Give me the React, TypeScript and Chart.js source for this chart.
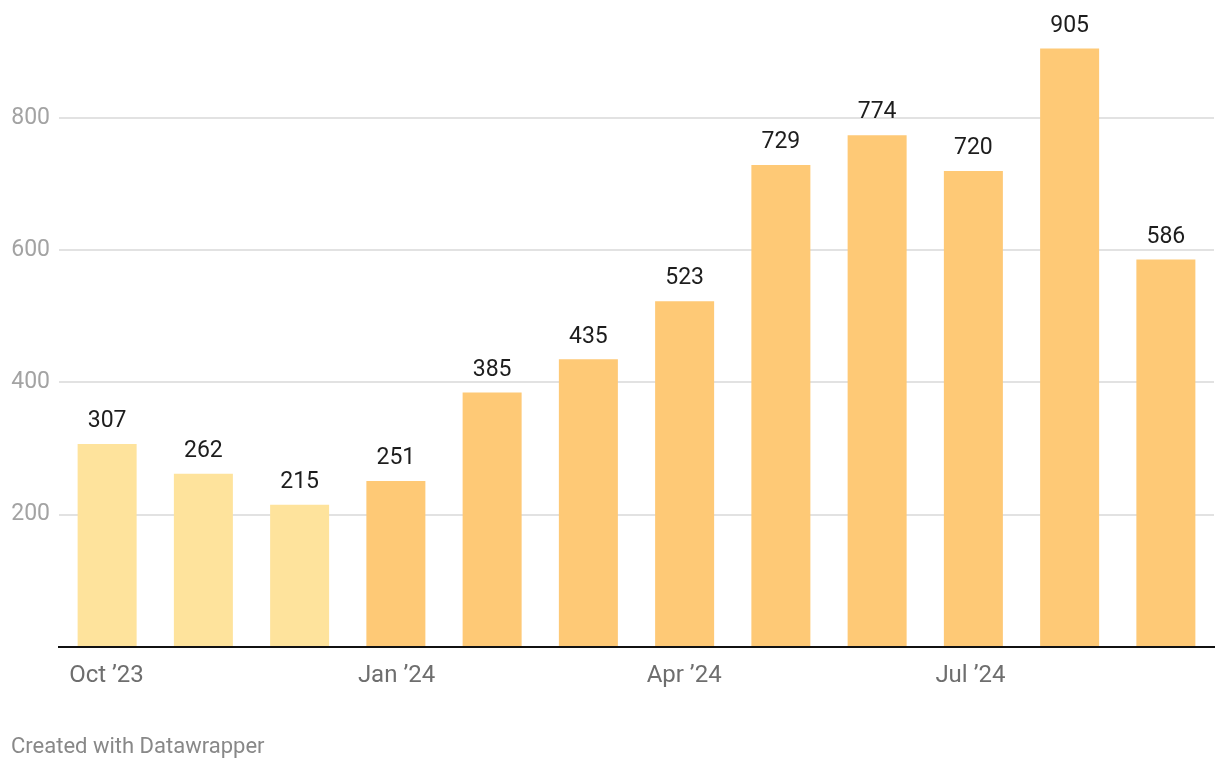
import React, { useEffect, useRef } from "react";
import { Chart, registerables } from "chart.js";

Chart.register(...registerables);

const months = [
  "Oct ’23", "Nov ’23", "Dec ’23", "Jan ’24", "Feb ’24", "Mar ’24",
  "Apr ’24", "May ’24", "Jun ’24", "Jul ’24", "Aug ’24", "Sep ’24",
];
const values = [307, 262, 215, 251, 385, 435, 523, 729, 774, 720, 905, 586];
const shownTickLabels = ["Oct ’23", "Jan ’24", "Apr ’24", "Jul ’24"];
const yTicks = [0, 200, 400, 600, 800];
const lightMonths = ["Oct ’23", "Nov ’23", "Dec ’23"];

const LIGHT = "#fee39c";
const MAIN = "#fec976";
const FONT = "Roboto";

const labelPlugin = {
  id: "barValueLabels",
  afterDatasetsDraw(chart: any) {
    const ctx = chart.ctx;
    const meta = chart.getDatasetMeta(0);
    ctx.save();
    ctx.font = `23px ${FONT}`;
    ctx.fillStyle = "#1d1d1d";
    ctx.textAlign = "center";
    ctx.textBaseline = "middle";
    meta.data.forEach((bar: any, i: number) => {
      ctx.fillText(String(values[i]), bar.x, bar.y - 22.5);
    });
    ctx.restore();
  },
};

export default function App() {
  const canvasRef = useRef<HTMLCanvasElement | null>(null);

  useEffect(() => {
    if (!canvasRef.current) return;
    const chart = new Chart(canvasRef.current, {
      type: "bar",
      data: {
        labels: months,
        datasets: [
          {
            data: values,
            backgroundColor: months.map((m) => (lightMonths.includes(m) ? LIGHT : MAIN)),
            borderWidth: 0,
            categoryPercentage: 1,
            barPercentage: 0.613,
          },
        ],
      },
      options: {
        animation: false,
        responsive: false,
        devicePixelRatio: 1,
        layout: { padding: { left: 0, right: 6, top: 0, bottom: 0 } },
        plugins: {
          legend: { display: false },
          tooltip: { enabled: false },
        },
        scales: {
          x: {
            grid: { display: false, drawTicks: false },
            border: { display: true, color: "#111111", width: 2 },
            afterFit: (scale: any) => {
              scale.height = 123;
              scale.paddingLeft = 0;
              scale.paddingRight = 0;
            },
            ticks: {
              autoSkip: false,
              maxRotation: 0,
              minRotation: 0,
              align: "start",
              labelOffset: -38,
              padding: 15,
              color: "#6e6e6e",
              font: { family: FONT, size: 24 },
              callback: (_v: any, i: number) =>
                shownTickLabels.includes(months[i]) ? months[i] : "",
            },
          },
          y: {
            min: 0,
            max: 978.4,
            afterBuildTicks: (scale: any) => {
              scale.ticks = yTicks.map((v) => ({ value: v }));
            },
            afterFit: (scale: any) => {
              scale.width = 59;
              scale.paddingTop = 0;
              scale.paddingBottom = 0;
            },
            grid: {
              drawTicks: false,
              color: (c: any) =>
                c.tick && c.tick.value > 0 ? "#e2e2e2" : "rgba(0,0,0,0)",
              lineWidth: 2,
            },
            border: { display: false },
            ticks: {
              padding: 9,
              color: "#a3a3a3",
              font: { family: FONT, size: 23 },
              callback: (v: any) => (Number(v) > 0 ? String(v) : ""),
            },
          },
        },
      },
      plugins: [labelPlugin],
    });
    return () => chart.destroy();
  }, []);

  return (
    <div style={{ position: "absolute", left: 0, top: 0, width: 1220, height: 770, background: "#fff" }}>
      <canvas ref={canvasRef} width={1220} height={770} style={{ display: "block" }} />
      <div
        style={{
          position: "absolute",
          left: 11,
          top: 733,
          fontFamily: FONT,
          fontSize: 22,
          color: "#888888",
          whiteSpace: "nowrap",
        }}
      >
        Created with Datawrapper
      </div>
    </div>
  );
}
